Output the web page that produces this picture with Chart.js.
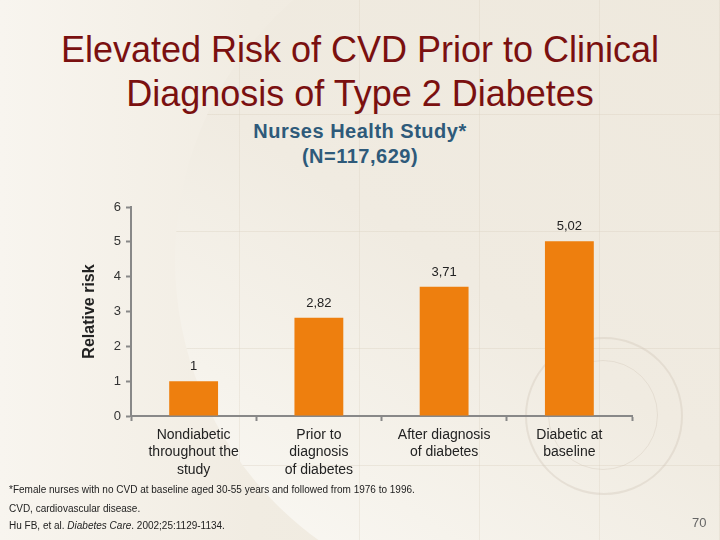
<!DOCTYPE html>
<html>
<head>
<meta charset="utf-8">
<script src="https://cdn.jsdelivr.net/npm/chart.js@4.4.1/dist/chart.umd.min.js"></script>
<style>
  html, body { margin: 0; padding: 0; }
  body {
    width: 720px; height: 540px; overflow: hidden; position: relative;
    font-family: "Liberation Sans", Arial, sans-serif;
    background: linear-gradient(90deg, #f8f5ef 0%, #f1ece2 35%, #eee8dc 100%);
  }
  /* big decorative disc behind the chart */
  #disc {
    position: absolute; left: 175px; top: -85px; width: 690px; height: 690px;
    border-radius: 50%; overflow: hidden;
    background: linear-gradient(35deg, #fcfbf8 0%, #f6f3ec 22%, #f0ebe1 45%, #eee8dc 100%);
  }
  #grid {
    position: absolute; left: -175px; top: 85px; width: 720px; height: 540px;
    background:
      repeating-linear-gradient(90deg, transparent 0 119px, rgba(215,205,188,0.3) 119px 120px),
      repeating-linear-gradient(180deg, transparent 0 116px, rgba(215,205,188,0.35) 116px 117px);
    background-position: 0 0, 0 -2px;
  }
  #seal {
    position: absolute; left: 525px; top: 337px; width: 154px; height: 154px;
    border-radius: 50%; border: 2px solid rgba(205,195,180,0.35);
  }
  #seal2 {
    position: absolute; left: 548px; top: 360px; width: 108px; height: 108px;
    border-radius: 50%; border: 1px solid rgba(205,195,180,0.35);
  }
  #chart { position: absolute; left: 0; top: 0; }
  .title {
    position: absolute; left: 0; width: 720px; text-align: center;
    color: #7a1010; font-size: 36px; line-height: 44px; top: 28px;
  }
  .sub {
    position: absolute; left: 0; width: 720px; text-align: center;
    color: #2e5a7a; font-size: 20px; font-weight: bold; line-height: 25px; top: 119px;
    letter-spacing: 0.5px;
  }
  .foot { position: absolute; left: 9px; font-size: 10px; color: #222; }
  .page { position: absolute; left: 692px; top: 515px; font-size: 13px; color: #666; }
</style>
</head>
<body>
<div id="disc"><div id="grid"></div></div>
<div id="seal"></div><div id="seal2"></div>
<div class="title">Elevated Risk of CVD Prior to Clinical<br>Diagnosis of Type 2 Diabetes</div>
<div class="sub">Nurses Health Study*<br>(N=117,629)</div>
<canvas id="chart" width="720" height="540"></canvas>
<div class="foot" style="top:484px">*Female nurses with no CVD at baseline aged 30-55 years and followed from 1976 to 1996.</div>
<div class="foot" style="top:503px">CVD, cardiovascular disease.</div>
<div class="foot" style="top:520px">Hu FB, et al. <i>Diabetes Care</i>. 2002;25:1129-1134.</div>
<div class="page">70</div>
<script>
// categories and values
let categories = [
  ["Nondiabetic", "throughout the", "study"],
  ["Prior to", "diagnosis", "of diabetes"],
  ["After diagnosis", "of diabetes"],
  ["Diabetic at", "baseline"]
];
let relativeRisk = [1, 2.82, 3.71, 5.02];
let yTicks = [0, 1, 2, 3, 4, 5, 6];

// draw the value above each bar, with a comma decimal
let barLabels = {
  id: "barLabels",
  afterDatasetsDraw(chart) {
    let ctx = chart.ctx;
    let meta = chart.getDatasetMeta(0);
    ctx.save();
    ctx.font = "13px 'Liberation Sans', Arial, sans-serif";
    ctx.fillStyle = "#222";
    ctx.textAlign = "center";
    ctx.textBaseline = "bottom";
    meta.data.forEach(function(bar, i) {
      let txt = String(relativeRisk[i]).replace(".", ",");
      ctx.fillText(txt, bar.x, bar.y - 8);
    });
    ctx.restore();
  }
};

let ctx = document.getElementById("chart").getContext("2d");
let chart = new Chart(ctx, {
  type: "bar",
  data: {
    labels: categories,
    datasets: [{
      data: relativeRisk,
      backgroundColor: "#ee7f0e",
      categoryPercentage: 1,
      barPercentage: 0.39
    }]
  },
  options: {
    responsive: false,
    animation: false,
    layout: { padding: { left: 71, right: 88, top: 207, bottom: 0 } },
    plugins: { legend: { display: false }, tooltip: { enabled: false } },
    scales: {
      x: {
        afterFit: function(scale) { scale.height = 124; },
        grid: { drawOnChartArea: false, offset: true, tickLength: 5, tickColor: "#888", tickWidth: 2 },
        border: { color: "#888", width: 2 },
        ticks: {
          color: "#222", padding: 6, maxRotation: 0, autoSkip: false,
          font: { family: "'Liberation Sans', Arial, sans-serif", size: 14, lineHeight: 1.22 }
        }
      },
      y: {
        min: 0, max: 6,
        afterFit: function(scale) { scale.width = 60; },
        afterBuildTicks: function(scale) { scale.ticks = yTicks.map(v => ({ value: v })); },
        grid: { drawOnChartArea: false, tickLength: 5, tickColor: "#888", tickWidth: 2 },
        border: { color: "#888", width: 2 },
        ticks: {
          color: "#333", padding: 5,
          font: { family: "'Liberation Sans', Arial, sans-serif", size: 13 }
        },
        title: {
          display: true, text: "Relative risk", color: "#222",
          padding: { top: 9, bottom: 4 },
          font: { family: "'Liberation Sans', Arial, sans-serif", size: 16, weight: "bold" }
        }
      }
    }
  },
  plugins: [barLabels]
});
</script>
</body>
</html>
